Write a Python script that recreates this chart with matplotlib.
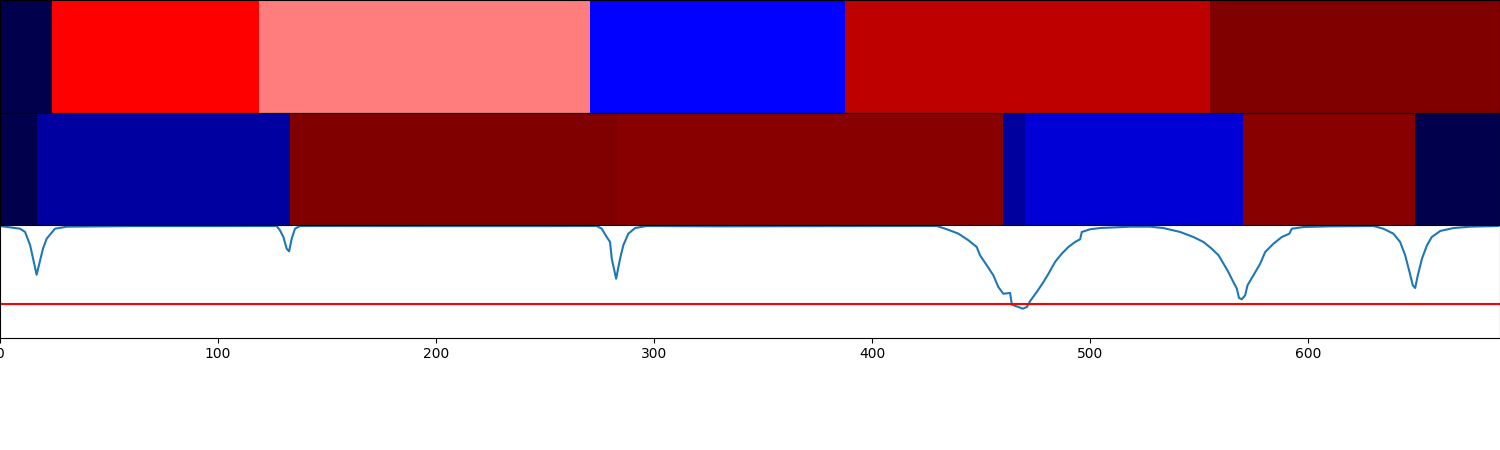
import matplotlib
matplotlib.use("Agg")
import matplotlib.pyplot as plt
import numpy as np

# segment edges and colour values (seismic colormap, 0..1) for the two strips
top_edges = [0, 23.9, 118.8, 270.6, 387.6, 555, 688]
top_values = [0.0, 0.75, 0.625, 0.25, 0.875, 1.0]

mid_edges = [0, 17, 133, 283, 460, 470, 570, 649, 688]
mid_values = [0.0, 0.12, 1.0, 0.983, 0.117, 0.195, 0.983, 0.0]

# curve
curve_x = [0, 9.2, 11.5, 13.8, 16.8, 19.7, 21.4, 25.2, 30.6, 60, 100,
           126.9, 128.4, 130.0, 131.5, 132.6, 133.8, 135.3, 137.6, 200, 250,
           273.7, 276.0, 278.3, 279.8, 280.6, 282.6, 284.4, 285.9, 288.2, 291.3, 296.6,
           330, 380, 429.7, 434.3, 439.6, 444.2, 448.0, 449.5, 452.6, 455.6, 457.9,
           460.2, 463.3, 464.1, 467.1, 469.1, 471.0, 472.5, 475.5, 478.6, 480.9,
           483.9, 487.0, 490.0, 493.1, 495.4, 496.2, 500.0, 504.6, 518.3, 527.5,
           533.6, 541.3, 547.4, 552.0, 555.8, 558.9, 561.2, 563.4, 565.7, 567.3,
           568.3, 569.6, 571.1, 572.2, 574.9, 578.0, 580.3, 584.1, 587.9, 591.4,
           592.5, 597.9, 610.1, 630.0, 634.5, 639.1, 642.2, 644.5, 646.5, 648.0,
           649.1, 650.3, 652.2, 654.5, 656.7, 660.6, 666.7, 674.3, 687.2]
curve_y = [0.991, 0.967, 0.938, 0.822, 0.558, 0.789, 0.878, 0.967, 0.985, 0.99, 0.99,
           0.991, 0.953, 0.893, 0.789, 0.766, 0.878, 0.967, 0.991, 0.99, 0.99,
           0.991, 0.967, 0.893, 0.849, 0.700, 0.523, 0.700, 0.820, 0.923, 0.973, 0.991,
           0.988, 0.99, 0.991, 0.962, 0.923, 0.864, 0.804, 0.731, 0.642, 0.553, 0.449,
           0.389, 0.396, 0.292, 0.271, 0.256, 0.271, 0.324, 0.404, 0.493, 0.567,
           0.671, 0.745, 0.804, 0.849, 0.873, 0.938, 0.962, 0.973, 0.985, 0.985,
           0.973, 0.938, 0.893, 0.849, 0.789, 0.731, 0.656, 0.582, 0.493, 0.434,
           0.351, 0.340, 0.375, 0.464, 0.553, 0.656, 0.760, 0.834, 0.893, 0.923,
           0.967, 0.982, 0.988, 0.991, 0.967, 0.923, 0.849, 0.731, 0.582, 0.464,
           0.440, 0.553, 0.700, 0.820, 0.893, 0.947, 0.973, 0.985, 0.991]
threshold = 0.3

fig, axes = plt.subplots(3, 1, figsize=(15, 4.5), dpi=100, sharex=True)
fig.subplots_adjust(left=0, right=1, top=1, bottom=0.25, hspace=0)

for ax, edges, vals in [(axes[0], top_edges, top_values), (axes[1], mid_edges, mid_values)]:
    ax.pcolormesh(edges, [0, 1], np.array([vals]), cmap='seismic', vmin=0, vmax=1)
    ax.set_yticks([])
    ax.tick_params(axis='x', bottom=False, labelbottom=False)

ax = axes[2]
ax.plot(curve_x, curve_y, color='C0')
ax.axhline(threshold, color='red')
ax.set_ylim(0, 1)
ax.set_xlim(0, 688)

plt.savefig('out.png')
